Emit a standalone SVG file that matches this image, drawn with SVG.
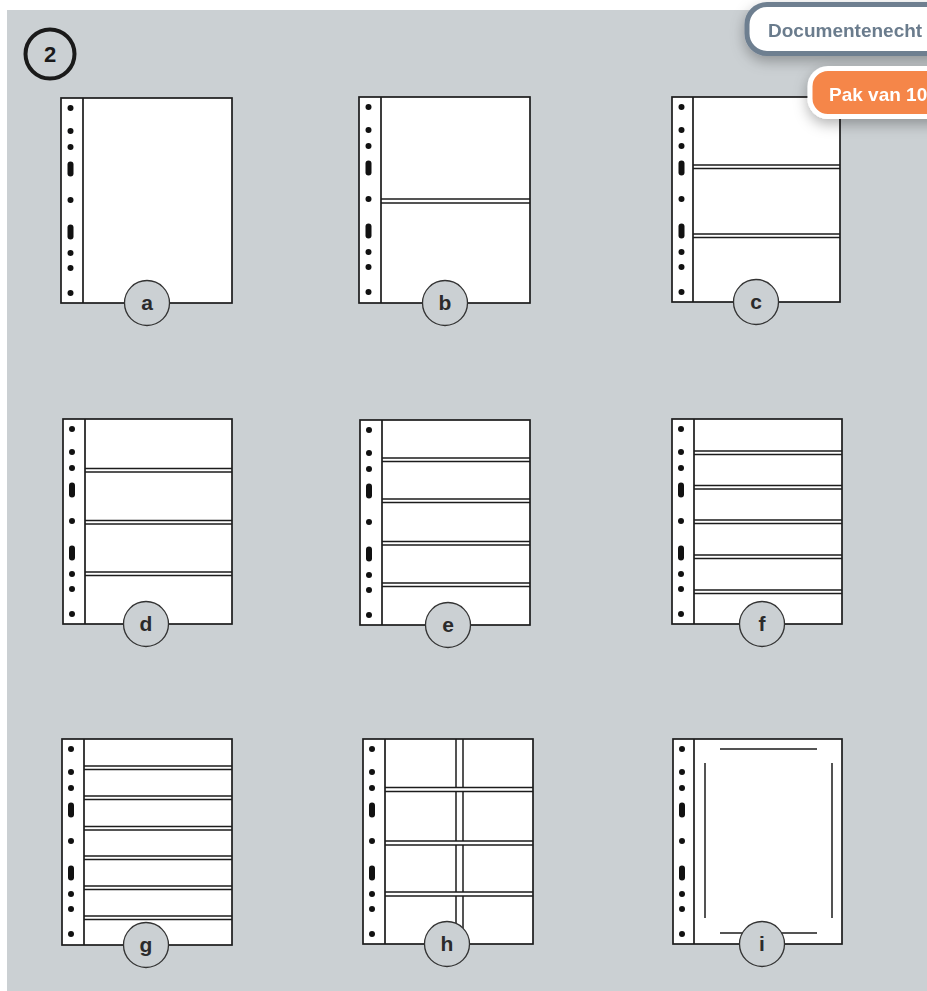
<svg xmlns="http://www.w3.org/2000/svg" xmlns:xlink="http://www.w3.org/1999/xlink" width="927" height="991" viewBox="0 0 927 991">
<style>
.sheet{fill:#fff;stroke:#1c1c1c;stroke-width:1.7}
.spine{stroke:#1c1c1c;stroke-width:1.7;fill:none}
.div{stroke:#1c1c1c;stroke-width:1.5;fill:none}
.hole{fill:#111}
.lbl{fill:#cbd0d3;stroke:#333;stroke-width:1.3}
.lt{font-family:"Liberation Sans",Arial,sans-serif;font-weight:bold;font-size:21px;fill:#2b2b2b;text-anchor:middle}
.tag{font-family:"Liberation Sans",Arial,sans-serif;font-weight:bold;font-size:19px}
</style>
<defs>
<g id="holes">
<circle class="hole" cx="9.5" cy="10" r="3"/>
<circle class="hole" cx="9.5" cy="33" r="3"/>
<circle class="hole" cx="9.5" cy="49" r="3"/>
<rect class="hole" x="6.5" y="63.5" width="6" height="15" rx="3"/>
<circle class="hole" cx="9.5" cy="102" r="3"/>
<rect class="hole" x="6.5" y="126.5" width="6" height="15" rx="3"/>
<circle class="hole" cx="9.5" cy="155" r="3"/>
<circle class="hole" cx="9.5" cy="170" r="3"/>
<circle class="hole" cx="9.5" cy="195" r="3"/>
</g>
<filter id="sh" x="-30%" y="-50%" width="160%" height="220%">
<feDropShadow dx="0" dy="5" stdDeviation="7" flood-color="#000" flood-opacity="0.3"/>
</filter>
</defs>
<rect x="0" y="0" width="927" height="991" fill="#fff"/>
<rect x="7" y="10" width="920" height="981" fill="#cbd0d3"/>
<g id="badge2">
<circle cx="50" cy="54" r="24.5" fill="none" stroke="#1a1a1a" stroke-width="4"/>
<text x="50" y="62" class="lt" style="font-size:22px;fill:#1a1a1a">2</text>
</g>
<g id="sheet-a">
<rect class="sheet" x="61" y="98" width="171" height="205"/>
<line class="spine" x1="83" y1="98" x2="83" y2="303"/>
<use xlink:href="#holes" href="#holes" x="61" y="98"/>
<circle class="lbl" cx="147" cy="303" r="22.5"/>
<text class="lt" x="147" y="310">a</text>
</g>
<g id="sheet-b">
<rect class="sheet" x="359" y="97" width="171" height="206"/>
<line class="spine" x1="381" y1="97" x2="381" y2="303"/>
<use xlink:href="#holes" href="#holes" x="359" y="97"/>
<path class="div" d="M381 199H530M381 203H530"/>
<circle class="lbl" cx="445" cy="303" r="22.5"/>
<text class="lt" x="445" y="310">b</text>
</g>
<g id="sheet-c">
<rect class="sheet" x="672" y="97" width="168" height="205"/>
<line class="spine" x1="693" y1="97" x2="693" y2="302"/>
<use xlink:href="#holes" href="#holes" x="672" y="97"/>
<path class="div" d="M693 165H840M693 168.5H840M693 234H840M693 237.5H840"/>
<circle class="lbl" cx="756" cy="302" r="22.5"/>
<text class="lt" x="756" y="309">c</text>
</g>
<g id="sheet-d">
<rect class="sheet" x="63" y="419" width="169" height="205"/>
<line class="spine" x1="85" y1="419" x2="85" y2="624"/>
<use xlink:href="#holes" href="#holes" x="62.5" y="419"/>
<path class="div" d="M85 468.5H232M85 472H232M85 520.5H232M85 524H232M85 572H232M85 575.5H232"/>
<circle class="lbl" cx="146" cy="624" r="22.5"/>
<text class="lt" x="146" y="631">d</text>
</g>
<g id="sheet-e">
<rect class="sheet" x="360" y="420" width="170" height="205"/>
<line class="spine" x1="382" y1="420" x2="382" y2="625"/>
<use xlink:href="#holes" href="#holes" x="359.5" y="420"/>
<path class="div" d="M382 458H530M382 461.5H530M382 499H530M382 502.5H530M382 541.5H530M382 545H530M382 583H530M382 586.5H530"/>
<circle class="lbl" cx="448" cy="625" r="22.5"/>
<text class="lt" x="448" y="632">e</text>
</g>
<g id="sheet-f">
<rect class="sheet" x="672" y="419" width="170" height="205"/>
<line class="spine" x1="694" y1="419" x2="694" y2="624"/>
<use xlink:href="#holes" href="#holes" x="671.5" y="419"/>
<path class="div" d="M694 451H842M694 454.5H842M694 485.5H842M694 489H842M694 520H842M694 523.5H842M694 555H842M694 558.5H842M694 590H842M694 593.5H842"/>
<circle class="lbl" cx="762" cy="624" r="22.5"/>
<text class="lt" x="762" y="631">f</text>
</g>
<g id="sheet-g">
<rect class="sheet" x="62" y="739" width="170" height="206"/>
<line class="spine" x1="84" y1="739" x2="84" y2="945"/>
<use xlink:href="#holes" href="#holes" x="61.5" y="739"/>
<path class="div" d="M84 766H232M84 769.5H232M84 796H232M84 799.5H232M84 826.5H232M84 830H232M84 856H232M84 859.5H232M84 886H232M84 889.5H232M84 916H232M84 919.5H232"/>
<circle class="lbl" cx="146" cy="945" r="22.5"/>
<text class="lt" x="146" y="952">g</text>
</g>
<g id="sheet-h">
<rect class="sheet" x="363" y="739" width="170" height="205"/>
<line class="spine" x1="385" y1="739" x2="385" y2="944"/>
<use xlink:href="#holes" href="#holes" x="362.5" y="739"/>
<path class="div" d="M385 787.5H533M385 791.5H533M385 841H533M385 845H533M385 892H533M385 896H533"/>
<path class="div" d="M456 739V787.5M463 739V787.5M456 791.5V841M463 791.5V841M456 845V892M463 845V892M456 896V944M463 896V944"/>
<circle class="lbl" cx="447" cy="944" r="22.5"/>
<text class="lt" x="447" y="951">h</text>
</g>
<g id="sheet-i">
<rect class="sheet" x="673" y="739" width="169" height="205"/>
<line class="spine" x1="694" y1="739" x2="694" y2="944"/>
<use xlink:href="#holes" href="#holes" x="672.5" y="739"/>
<path class="div" d="M720 749H817M720 933H817M705 763V918M832 763V918"/>
<circle class="lbl" cx="762" cy="944" r="22.5"/>
<text class="lt" x="762" y="951">i</text>
</g>
<g id="tag-documentenecht" filter="url(#sh)">
<rect x="747" y="4.5" width="210" height="49" rx="20" fill="#fff" stroke="#6e7f90" stroke-width="5"/>
<text class="tag" x="768" y="37" fill="#6b7c8d">Documentenecht</text>
</g>
<g id="tag-pak" filter="url(#sh)">
<rect x="810" y="68.5" width="150" height="48" rx="18" fill="#f5864a" stroke="#fff" stroke-width="5"/>
<text class="tag" x="829" y="101" fill="#fff">Pak van 10</text>
</g>
</svg>
